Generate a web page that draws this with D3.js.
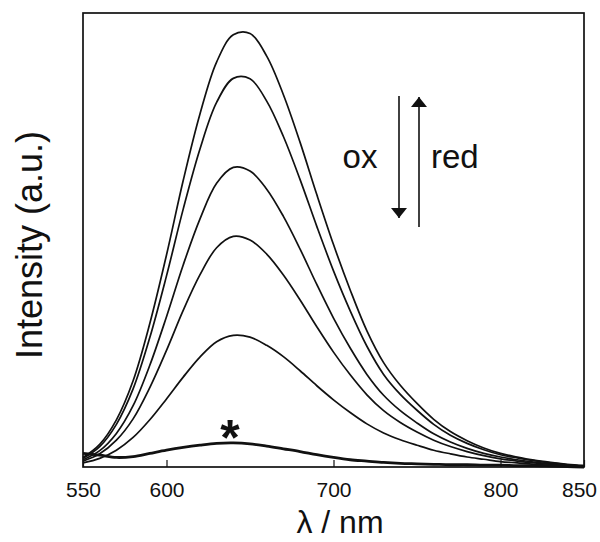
<!DOCTYPE html>
<html>
<head>
<meta charset="utf-8">
<script src="https://cdn.jsdelivr.net/npm/d3@7/dist/d3.min.js"></script>
<style>
  html, body { margin: 0; padding: 0; background: #fff; }
  svg { display: block; font-family: "Liberation Sans", Arial, Helvetica, sans-serif; }
</style>
</head>
<body>
<svg id="chart" width="600" height="542"></svg>
<script>
// Wavelengths (nm)
const wavelengths = [550,560,570,580,590,600,610,620,630,640,650,660,670,680,690,700,710,720,730,740,750,760,770,780,790,800,810,820,830,840,850];

// Emission spectra (a.u.), from top to bottom
const spectrum1 = [.021,.050,.104,.190,.316,.467,.631,.777,.892,.952,.955,.905,.820,.715,.600,.490,.390,.300,.230,.180,.140,.105,.078,.058,.042,.030,.022,.015,.010,.006,.003];
const spectrum2 = [.019,.045,.094,.172,.285,.421,.568,.700,.803,.856,.855,.806,.728,.633,.530,.432,.344,.266,.204,.160,.125,.094,.070,.052,.038,.027,.020,.014,.009,.005,.003];
const spectrum3 = [.016,.036,.074,.135,.224,.331,.445,.546,.625,.660,.652,.612,.552,.480,.402,.328,.262,.204,.158,.124,.097,.073,.055,.041,.030,.022,.016,.011,.007,.004,.002];
const spectrum4 = [.013,.029,.059,.106,.175,.257,.345,.423,.483,.508,.500,.469,.423,.368,.309,.253,.203,.159,.124,.098,.077,.059,.045,.034,.025,.018,.013,.009,.006,.004,.002];
const spectrum5 = [.009,.019,.037,.065,.104,.150,.198,.242,.276,.290,.286,.268,.243,.212,.179,.148,.120,.095,.075,.060,.048,.037,.029,.022,.017,.012,.009,.006,.004,.003,.001];
// Spectrum marked with *
const spectrumStar = [.030,.026,.021,.023,.030,.037,.043,.048,.052,.053,.051,.046,.040,.034,.027,.021,.016,.013,.010,.008,.007,.006,.005,.005,.004,.004,.003,.003,.002,.001,.000];

const xTicks = [550,600,700,800,850];
const xTitle = "λ / nm";
const yTitle = "Intensity (a.u.)";

const svg = d3.select("#chart");
const mLeft = 83, mRight = 584, mTop = 13, mBottom = 467;

const x = d3.scaleLinear().domain([550, 850]).range([mLeft, mRight]);
const y = d3.scaleLinear().domain([0, 1]).range([mBottom, mTop]);

const line = d3.line()
  .x((d, i) => x(wavelengths[i]))
  .y(d => y(d))
  .curve(d3.curveCatmullRom.alpha(0.5));

const series = [spectrum1, spectrum2, spectrum3, spectrum4, spectrum5];
svg.append("g").selectAll("path").data(series).join("path")
  .attr("d", d => line(d))
  .attr("fill", "none")
  .attr("stroke", "#111")
  .attr("stroke-width", 1.7);

svg.append("path")
  .attr("d", line(spectrumStar))
  .attr("fill", "none")
  .attr("stroke", "#111")
  .attr("stroke-width", 2.8);

// Frame
svg.append("rect")
  .attr("x", mLeft).attr("y", mTop)
  .attr("width", mRight - mLeft).attr("height", mBottom - mTop)
  .attr("fill", "none").attr("stroke", "#111").attr("stroke-width", 1.7);

// X axis
const xAxis = d3.axisBottom(x).tickValues(xTicks).tickFormat(d3.format("d"))
  .tickSizeInner(-7).tickSizeOuter(0).tickPadding(15);
const gx = svg.append("g").attr("transform", `translate(0,${mBottom})`).call(xAxis);
gx.select(".domain").remove();
gx.selectAll(".tick line").attr("stroke", "#111").attr("stroke-width", 1.2);
gx.selectAll(".tick text").attr("fill", "#111").style("font-size", "21px")
  .style("font-family", "'Liberation Sans', Arial, sans-serif");
gx.selectAll(".tick text").filter(d => d === 850).attr("dx", -5);

// Axis titles
svg.append("text")
  .attr("x", 340).attr("y", 533)
  .attr("text-anchor", "middle")
  .style("font-size", "32px").attr("fill", "#111")
  .text(xTitle);

svg.append("text")
  .attr("transform", `translate(42,245) rotate(-90)`)
  .attr("text-anchor", "middle")
  .style("font-size", "36px").attr("fill", "#111")
  .text(yTitle);

// Asterisk
svg.append("text")
  .attr("x", 230).attr("y", 455)
  .attr("text-anchor", "middle")
  .style("font-size", "50px").style("font-weight", "bold").attr("fill", "#111")
  .text("*");

// Arrows with labels
const defs = svg.append("defs");
defs.append("marker").attr("id", "ah")
  .attr("viewBox", "0 0 10 16").attr("refX", 10).attr("refY", 8)
  .attr("markerWidth", 10).attr("markerHeight", 16)
  .attr("markerUnits", "userSpaceOnUse").attr("orient", "auto")
  .append("path").attr("d", "M0,0 L10,8 L0,16 Z").attr("fill", "#111");

svg.append("line")
  .attr("x1", 399).attr("y1", 96).attr("x2", 399).attr("y2", 218)
  .attr("stroke", "#111").attr("stroke-width", 1.6).attr("marker-end", "url(#ah)");
svg.append("line")
  .attr("x1", 419).attr("y1", 227).attr("x2", 419).attr("y2", 97)
  .attr("stroke", "#111").attr("stroke-width", 1.6).attr("marker-end", "url(#ah)");

svg.append("text").attr("x", 360).attr("y", 168).attr("text-anchor", "middle")
  .style("font-size", "33px").attr("fill", "#111").text("ox");
svg.append("text").attr("x", 431).attr("y", 168).attr("text-anchor", "start")
  .style("font-size", "33px").attr("fill", "#111").text("red");
</script>
</body>
</html>
